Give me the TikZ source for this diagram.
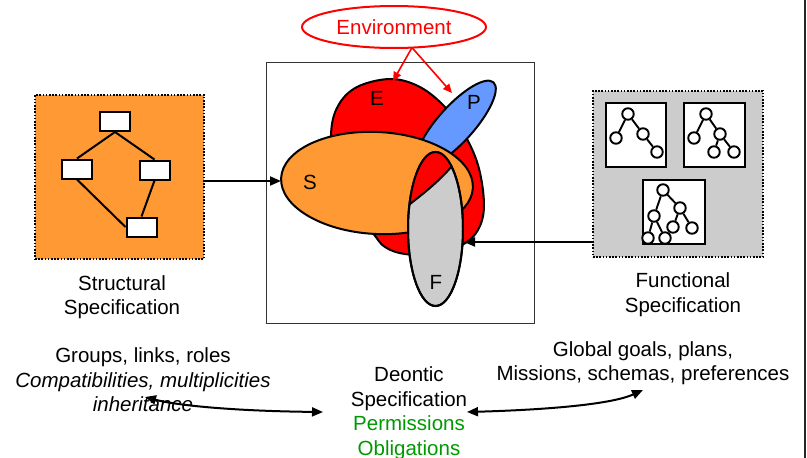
\documentclass[tikz,border=0pt]{standalone}
\usepackage{fontspec}
\setmainfont{Liberation Sans}
\usetikzlibrary{arrows.meta,shapes.geometric}
\definecolor{sorange}{RGB}{255,153,51}
\definecolor{pblue}{RGB}{102,153,255}
\definecolor{fgray}{RGB}{204,204,204}
\definecolor{dgreen}{RGB}{0,153,0}
\begin{document}
\begin{tikzpicture}[x=1pt,y=-1pt,
  txt/.style={font=\fontsize{20.5}{24.5}\selectfont, inner sep=0pt, align=center},
  specbox/.style={draw=black, line width=1.8pt, dash pattern=on 1.6pt off 1.6pt, inner sep=0pt},
  wbox/.style={draw=black, fill=white, line width=2pt, minimum width=30pt, minimum height=19pt, inner sep=0pt},
  tbox/.style={draw=black, fill=white, line width=2pt, inner sep=0pt},
  tn/.style={circle, draw=black, fill=white, line width=1.9pt, minimum size=11.5pt, inner sep=0pt},
  tl/.style={line width=1.9pt},
  sl/.style={line width=2pt},
  shp/.style={draw=black, line width=2pt},
  conn/.style={line width=2pt, -{Triangle[length=11pt,width=9pt]}},
  biconn/.style={line width=2pt, {Triangle[length=11pt,width=9pt]}-{Triangle[length=11pt,width=9pt]}},
  envconn/.style={draw=red, line width=1.6pt, -{Triangle[length=9pt,width=8pt]}}
]
\useasboundingbox (0,0) rectangle (807,458);
\draw[line width=1.5pt, black!85] (805,0) -- (805,458);

% Structural specification box
\node[specbox, fill=sorange, minimum width=169pt, minimum height=164pt] (struct) at (119.5,177) {};
\node[wbox] (w1) at (115,121.5) {};
\node[wbox] (w2) at (77,169) {};
\node[wbox] (w3) at (154.5,170) {};
\node[wbox] (w4) at (141.5,227) {};
\draw[sl] (w1.south) -- (w2.north);
\draw[sl] (w1.south) -- (w3.north);
\draw[sl] (w2.south) -- (w4.west);
\draw[sl] (w3.south) -- (w4.north);

% Functional specification box
\node[specbox, fill=fgray, minimum width=170pt, minimum height=166pt] (func) at (678,174) {};
\node[tbox, minimum width=60pt, minimum height=64pt] (t1) at (636,135) {};
\node[tbox, minimum width=61pt, minimum height=64pt] (t2) at (714.5,135) {};
\node[tbox, minimum width=62pt, minimum height=64pt] (t3) at (674,212) {};
\node[tn] (a1) at (628,114) {};
\node[tn] (a2) at (616,138) {};
\node[tn] (a3) at (643,134) {};
\node[tn] (a4) at (657,152) {};
\draw[tl] (a1) -- (a2); \draw[tl] (a1) -- (a3); \draw[tl] (a3) -- (a4);
\node[tn] (b1) at (706,114) {};
\node[tn] (b2) at (694,138) {};
\node[tn] (b3) at (720,134) {};
\node[tn] (b4) at (714,152) {};
\node[tn] (b5) at (734,152) {};
\draw[tl] (b1) -- (b2); \draw[tl] (b1) -- (b3); \draw[tl] (b3) -- (b4); \draw[tl] (b3) -- (b5);
\node[tn] (c1) at (663,190) {};
\node[tn] (c2) at (654,216) {};
\node[tn] (c3) at (680,208) {};
\node[tn] (c4) at (673,227) {};
\node[tn] (c5) at (692,228) {};
\node[tn] (c6) at (648,238) {};
\node[tn] (c7) at (665,238) {};
\draw[tl] (c1) -- (c2); \draw[tl] (c1) -- (c3); \draw[tl] (c3) -- (c4); \draw[tl] (c3) -- (c5);
\draw[tl] (c2) -- (c6); \draw[tl] (c2) -- (c7);

% Central frame
\node[draw=black!80, line width=1pt, minimum width=268pt, minimum height=261pt, inner sep=0pt] (frame) at (400,192.5) {};

% E blob
\filldraw[shp, fill=red] plot[smooth cycle, tension=0.6] coordinates {(331,135) (338,106) (357,87) (390,79) (418,86) (442,104) (462,130) (478,165) (484,205) (478,230) (462,245) (435,254) (405,254) (385,247) (372,232) (335,185)};
% P ellipse
\filldraw[shp, fill=pblue, rotate around={48:(456,124)}] (456,124) ellipse [x radius=56pt, y radius=18pt];
% S ellipse
\filldraw[shp, fill=sorange, rotate around={-3:(377,183)}] (377,183) ellipse [x radius=96pt, y radius=51pt];
% F ellipse
\filldraw[shp, fill=fgray] (435.5,229) ellipse [x radius=27.5pt, y radius=77pt];
\begin{scope}
  \clip (435.5,229) ellipse [x radius=27.5pt, y radius=77pt];
  \fill[red] (404,209) -- (410,204) .. controls (428,190) and (440,180) .. (452,166) -- (458,158) -- (470,140) -- (395,140) -- cycle;
  \draw[sl] (404,209) -- (410,204) .. controls (428,190) and (440,180) .. (452,166) -- (458,158);
\end{scope}
\draw[shp] (435.5,229) ellipse [x radius=27.5pt, y radius=77pt];

\node[txt] (Elab) at (377,98) {E};
\node[txt] (Plab) at (474,102) {P};
\node[txt] (Slab) at (310,182) {S};
\node[txt] (Flab) at (436,282) {F};

% Environment
\node[ellipse, draw=red, line width=2pt, minimum width=184pt, minimum height=42pt, txt, text=red] (env) at (394,27) {Environment};
\coordinate (envs) at (412,47.6);
\coordinate (Etop) at (393,81);
\coordinate (Ptop) at (452,93);
\draw[envconn] (envs) -- (Etop);
\draw[envconn] (envs) -- (Ptop);

% Arrows from the side boxes
\coordinate (Sw) at (281,181);
\coordinate (Fe) at (464,242);
\draw[conn] (struct.east |- Sw) -- (Sw);
\draw[conn] (func.west |- Fe) -- (Fe);

% Texts
\node[txt] (slabel) at (122,297) {Structural\\Specification};
\node[txt] (flabel) at (683,294.5) {Functional\\Specification};
\node[txt] (sdesc) at (143,380) {Groups, links, roles\\\textit{Compatibilities, multiplicities}\\\textit{inheritance}};
\node[txt] (deon) at (409,413) {Deontic\\Specification\\\textcolor{dgreen}{Permissions}\\\textcolor{dgreen}{Obligations}};
\node[txt] (fdesc) at (643,363) {Global goals, plans,\\Missions, schemas, preferences};

% Bottom arrows
\coordinate (g1) at (145,397);
\coordinate (g2) at (323,412);
\coordinate (g3) at (467,412);
\coordinate (g4) at (643,390);
\draw[biconn] (g1) .. controls (175,405) and (230,411) .. (g2);
\draw[biconn] (g3) .. controls (540,410) and (610,405) .. (g4);
\end{tikzpicture}
\end{document}
